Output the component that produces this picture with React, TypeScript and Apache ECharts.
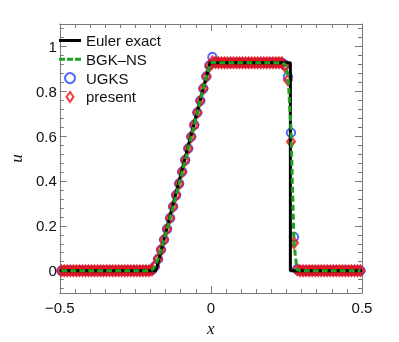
import React, { useEffect, useRef } from "react";
import * as echarts from "echarts";

// cell centres
const xs = [
  -0.495, -0.485, -0.475, -0.465, -0.455, -0.445, -0.435, -0.425, -0.415, -0.405,
  -0.395, -0.385, -0.375, -0.365, -0.355, -0.345, -0.335, -0.325, -0.315, -0.305,
  -0.295, -0.285, -0.275, -0.265, -0.255, -0.245, -0.235, -0.225, -0.215, -0.205,
  -0.195, -0.185, -0.175, -0.165, -0.155, -0.145, -0.135, -0.125, -0.115, -0.105,
  -0.095, -0.085, -0.075, -0.065, -0.055, -0.045, -0.035, -0.025, -0.015, -0.005,
  0.005, 0.015, 0.025, 0.035, 0.045, 0.055, 0.065, 0.075, 0.085, 0.095,
  0.105, 0.115, 0.125, 0.135, 0.145, 0.155, 0.165, 0.175, 0.185, 0.195,
  0.205, 0.215, 0.225, 0.235, 0.245, 0.255, 0.265, 0.275, 0.285, 0.295,
  0.305, 0.315, 0.325, 0.335, 0.345, 0.355, 0.365, 0.375, 0.385, 0.395,
  0.405, 0.415, 0.425, 0.435, 0.445, 0.455, 0.465, 0.475, 0.485, 0.495,
];

const ugks = [
  0, 0, 0, 0, 0, 0, 0, 0, 0, 0,
  0, 0, 0, 0, 0, 0, 0, 0, 0, 0,
  0, 0, 0, 0, 0, 0, 0, 0, 0, 0,
  0.003, 0.02, 0.052, 0.093, 0.138, 0.186, 0.235, 0.286, 0.337, 0.388,
  0.441, 0.493, 0.545, 0.597, 0.65, 0.705, 0.758, 0.812, 0.866, 0.915,
  0.953, 0.93, 0.927, 0.927, 0.927, 0.927, 0.927, 0.927, 0.927, 0.927,
  0.927, 0.927, 0.927, 0.927, 0.927, 0.927, 0.927, 0.927, 0.927, 0.927,
  0.927, 0.927, 0.927, 0.927, 0.918, 0.865, 0.615, 0.15, 0.006, 0,
  0, 0, 0, 0, 0, 0, 0, 0, 0, 0,
  0, 0, 0, 0, 0, 0, 0, 0, 0, 0,
];

const present = [
  0, 0, 0, 0, 0, 0, 0, 0, 0, 0,
  0, 0, 0, 0, 0, 0, 0, 0, 0, 0,
  0, 0, 0, 0, 0, 0, 0, 0, 0, 0,
  0.003, 0.02, 0.052, 0.093, 0.138, 0.186, 0.235, 0.286, 0.337, 0.388,
  0.441, 0.493, 0.545, 0.597, 0.65, 0.705, 0.758, 0.812, 0.866, 0.913,
  0.932, 0.928, 0.927, 0.927, 0.927, 0.927, 0.927, 0.927, 0.927, 0.927,
  0.927, 0.927, 0.927, 0.927, 0.927, 0.927, 0.927, 0.927, 0.927, 0.927,
  0.927, 0.927, 0.927, 0.927, 0.912, 0.85, 0.575, 0.124, 0.004, 0,
  0, 0, 0, 0, 0, 0, 0, 0, 0, 0,
  0, 0, 0, 0, 0, 0, 0, 0, 0, 0,
];

const bgkns = [
  0, 0, 0, 0, 0, 0, 0, 0, 0, 0,
  0, 0, 0, 0, 0, 0, 0, 0, 0, 0,
  0, 0, 0, 0, 0, 0, 0, 0, 0, 0,
  0.003, 0.02, 0.052, 0.093, 0.138, 0.186, 0.235, 0.286, 0.337, 0.388,
  0.441, 0.493, 0.545, 0.597, 0.65, 0.705, 0.758, 0.812, 0.866, 0.912,
  0.93, 0.928, 0.927, 0.927, 0.927, 0.927, 0.927, 0.927, 0.927, 0.927,
  0.927, 0.927, 0.927, 0.927, 0.927, 0.927, 0.927, 0.927, 0.927, 0.927,
  0.927, 0.927, 0.927, 0.927, 0.92, 0.875, 0.63, 0.12, 0.004, 0,
  0, 0, 0, 0, 0, 0, 0, 0, 0, 0,
  0, 0, 0, 0, 0, 0, 0, 0, 0, 0,
];

// exact Euler solution breakpoints
const exactX = [-0.5, -0.182, -0.003, 0.263, 0.263, 0.5];
const exactU = [0, 0, 0.927, 0.927, 0, 0];

const xTicks = [-0.5, 0, 0.5];
const xMinorTicks = [
  -0.45, -0.4, -0.35, -0.3, -0.25, -0.2, -0.15, -0.1, -0.05,
  0.05, 0.1, 0.15, 0.2, 0.25, 0.3, 0.35, 0.4, 0.45,
];
const yTicks = [0, 0.2, 0.4, 0.6, 0.8, 1];
const yMinorTicks = [
  -0.08, -0.04, 0.04, 0.08, 0.12, 0.16, 0.24, 0.28, 0.32, 0.36,
  0.44, 0.48, 0.52, 0.56, 0.64, 0.68, 0.72, 0.76, 0.84, 0.88, 0.92, 0.96,
  1.04, 1.08,
];

const AXIS_GRAY = "#7a7a7a";
const TEXT = "#111";
const FONT = "Liberation Sans";
const GREEN = "#1fa31f";
const BLUE = "#2a45ff";
const RED = "#ee1010";

function pair(a: number[], b: number[]) {
  return a.map((v, i) => [v, b[i]]);
}

export default function App() {
  const ref = useRef<HTMLDivElement>(null);
  useEffect(() => {
    if (!ref.current) return;
    const chart = echarts.init(ref.current, null, { renderer: "svg" });

    const xBase = {
      type: "value",
      min: -0.5,
      max: 0.5,
      splitLine: { show: false },
    };
    const yBase = {
      type: "value",
      min: -0.1,
      max: 1.1,
      splitLine: { show: false },
    };
    const lineOn = {
      show: true,
      onZero: false,
      lineStyle: { color: AXIS_GRAY, width: 1 },
    };
    const lineOff = { show: false, onZero: false };
    const tick = (vals: number[], len: number) => ({
      show: true,
      inside: true,
      length: len,
      customValues: vals,
      lineStyle: { color: AXIS_GRAY, width: 1 },
    });

    chart.setOption({
      animation: false,
      grid: { left: 51, right: 37, top: 24, bottom: 38 },
      legend: {
        orient: "vertical",
        left: 59,
        top: 33,
        padding: 0,
        itemWidth: 22,
        itemHeight: 10,
        itemGap: 3.8,
        textStyle: { fontFamily: FONT, fontSize: 15, color: TEXT },
        data: [
          {
            name: "Euler exact",
            icon: "path://M0,0H22V3H0Z",
            itemStyle: { color: "#000" },
          },
          {
            name: "BGK–NS",
            icon: "path://M0,0H6V3H0Z M8,0H14V3H8Z M16,0H22V3H16Z",
            itemStyle: { color: GREEN },
          },
          { name: "UGKS", icon: "circle" },
          { name: "present", icon: "path://M0,-5L3.5,0L0,5L-3.5,0Z" },
        ],
      },
      xAxis: [
        {
          ...xBase,
          position: "bottom",
          axisLine: lineOn,
          axisTick: tick(xTicks, 7),
          axisLabel: {
            show: true,
            customValues: xTicks,
            margin: 7,
            fontFamily: FONT,
            fontSize: 15,
            color: TEXT,
            formatter: (v: number) => (v < 0 ? "−" + Math.abs(v) : String(v)),
          },
          name: "x",
          nameLocation: "middle",
          nameGap: 13,
          nameTextStyle: {
            fontFamily: "Liberation Serif",
            fontStyle: "italic",
            fontSize: 17,
            color: TEXT,
          },
        },
        {
          ...xBase,
          position: "bottom",
          axisLine: lineOff,
          axisTick: tick(xMinorTicks, 4),
          axisLabel: { show: false },
        },
        {
          ...xBase,
          position: "top",
          axisLine: lineOn,
          axisTick: tick(xTicks, 7),
          axisLabel: { show: false },
        },
        {
          ...xBase,
          position: "top",
          axisLine: lineOff,
          axisTick: tick(xMinorTicks, 4),
          axisLabel: { show: false },
        },
      ],
      yAxis: [
        {
          ...yBase,
          position: "left",
          axisLine: lineOn,
          axisTick: tick(yTicks, 7),
          axisLabel: {
            show: true,
            customValues: yTicks,
            margin: 3,
            fontFamily: FONT,
            fontSize: 15,
            color: TEXT,
          },
          name: "u",
          nameLocation: "middle",
          nameGap: 28,
          nameTextStyle: {
            fontFamily: "Liberation Serif",
            fontStyle: "italic",
            fontSize: 17,
            color: TEXT,
          },
        },
        {
          ...yBase,
          position: "left",
          axisLine: lineOff,
          axisTick: tick(yMinorTicks, 4),
          axisLabel: { show: false },
        },
        {
          ...yBase,
          position: "right",
          axisLine: lineOn,
          axisTick: tick(yTicks, 7),
          axisLabel: { show: false },
        },
        {
          ...yBase,
          position: "right",
          axisLine: lineOff,
          axisTick: tick(yMinorTicks, 4),
          axisLabel: { show: false },
        },
      ],
      series: [
        {
          name: "Euler exact",
          type: "line",
          data: pair(exactX, exactU),
          symbol: "none",
          showSymbol: false,
          lineStyle: { color: "#000", width: 3 },
          itemStyle: { color: "#000" },
        },
        {
          name: "BGK–NS",
          type: "line",
          data: pair(xs, bgkns),
          symbol: "none",
          showSymbol: false,
          lineStyle: { color: GREEN, width: 3, type: [6, 3] },
          itemStyle: { color: GREEN },
        },
        {
          name: "UGKS",
          type: "scatter",
          data: pair(xs, ugks),
          symbol: "circle",
          symbolSize: 8.5,
          itemStyle: {
            color: "rgba(0,0,0,0)",
            borderColor: BLUE,
            borderWidth: 2,
          },
        },
        {
          name: "present",
          type: "scatter",
          data: pair(xs, present),
          symbol: "diamond",
          symbolSize: [7.5, 10],
          itemStyle: {
            color: "rgba(0,0,0,0)",
            borderColor: RED,
            borderWidth: 2.5,
          },
        },
      ],
    });
    return () => chart.dispose();
  }, []);
  return (
    <div
      ref={ref}
      style={{ position: "fixed", left: 0, top: 0, width: 399, height: 342 }}
    />
  );
}
